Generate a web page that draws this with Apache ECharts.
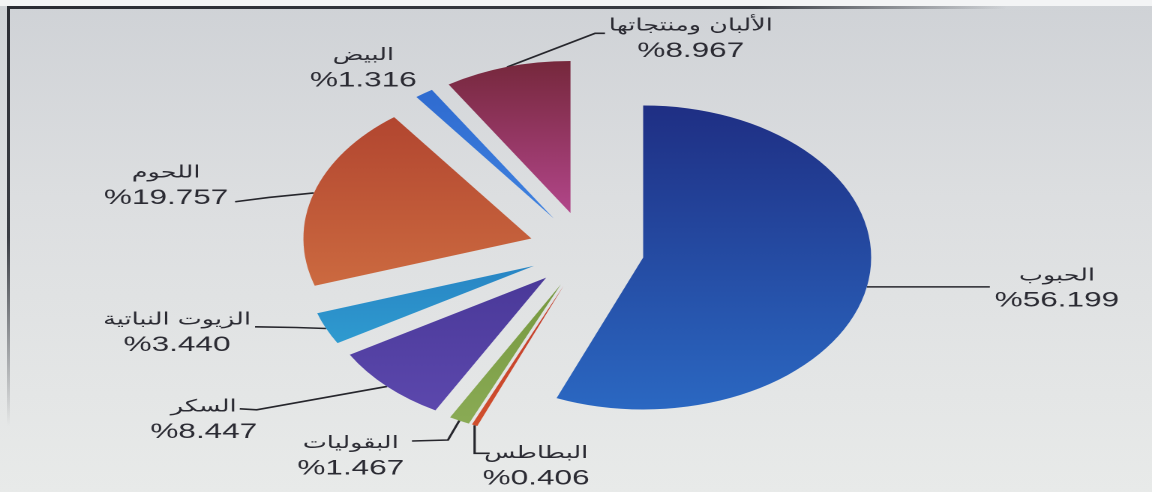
<!DOCTYPE html>
<html>
<head>
<meta charset="utf-8">
<script src="https://cdn.jsdelivr.net/npm/echarts@6/dist/echarts.min.js"></script>
<style>
html,body{margin:0;padding:0;width:1152px;height:492px;overflow:hidden;}
body{position:relative;background:linear-gradient(180deg,#cfd2d6 0%,#dcdee0 40%,#e8eae9 100%);}
#topWhite{position:absolute;left:0;top:0;width:1152px;height:6px;background:#f3f4f5;}
#frameTop{position:absolute;left:7px;top:6px;width:1000px;height:3px;background:linear-gradient(90deg,#2a2c33 0%,#3a3d44 75%,rgba(70,70,75,0) 100%);}
#frameLeft{position:absolute;left:7px;top:6px;width:3px;height:420px;background:linear-gradient(180deg,#2a2c33 0%,#3a3d44 55%,rgba(70,70,75,0) 100%);}
#chart{position:absolute;left:0;top:0;width:768px;height:492px;transform:scaleX(1.5);transform-origin:0 0;}
</style>
</head>
<body>
<div id="topWhite"></div>
<div id="frameTop"></div>
<div id="frameLeft"></div>
<div id="chart"></div>
<script>
// ---- data ----
const categories = ['الحبوب', 'البطاطس', 'البقوليات', 'السكر', 'الزيوت النباتية', 'اللحوم', 'البيض', 'الألبان ومنتجاتها'];
const shares = [56.199, 0.406, 1.467, 8.447, 3.440, 19.757, 1.316, 8.967];

// ---- styles ----
const colorTop    = ['#1f2f84', '#c23b2a', '#76983f', '#4a3999', '#2885c4', '#b24630', '#2f6bd0', '#76283c'];
const colorBottom = ['#2b68c2', '#d0502e', '#8aab55', '#5c48ad', '#2f9bd0', '#cc6a40', '#3f82e0', '#b2468a'];
// leader-line bends and label centres, as offsets from the library's own leader start point
const leaderElbow = [[40, 0], [0, 28], [-7.6, 19.4], [-86.9, 23.4], [-20, -1], [-30, 4.5], [0, 0], [58.7, -33.7]];
const leaderEnd   = [[82, 0], [10, 28], [-31.6, 20.4], [-98.2, 22.4], [-47.4, -1.7], [-52.5, 8.8], [0, 0], [65.3, -33.7]];
const labelCenter = [[126.7, 2.5], [41, 41.7], [-72.4, 36.4], [-122.2, 34.4], [-99.4, 5.3], [-98.5, -6.2], [-40.5, -24.3], [122.5, -27.5]];
const leaderShow  = [1, 1, 1, 1, 1, 1, 0, 1];

const chart = echarts.init(document.getElementById('chart'), null, { renderer: 'canvas', devicePixelRatio: 2 });

const data = categories.map((name, i) => ({
  name: name,
  value: shares[i],
  selected: true,
  itemStyle: {
    color: { type: 'linear', x: 0, y: 0, x2: 0, y2: 1,
      colorStops: [{ offset: 0, color: colorTop[i] }, { offset: 1, color: colorBottom[i] }] }
  },
  labelLine: { lineStyle: { opacity: leaderShow[i] ? 1 : 0 } }
}));

chart.setOption({
  animation: false,
  series: [{
    type: 'pie',
    center: [391, 250],
    radius: 152,
    startAngle: 90,
    clockwise: true,
    selectedMode: 'multiple',
    selectedOffset: 38.5,
    avoidLabelOverlap: false,
    emphasis: { disabled: true },
    data: data,
    label: {
      show: true,
      position: 'outside',
      color: '#2b2b33',
      formatter: p => '{n|' + p.name + '}\n{v|%' + p.value.toFixed(3) + '}',
      rich: {
        n: { fontSize: 17, lineHeight: 25, align: 'center', color: '#2b2b33', fontFamily: 'DejaVu Sans, sans-serif' },
        v: { fontSize: 21, lineHeight: 25, align: 'center', color: '#2b2b33', fontFamily: 'Liberation Sans, Arial, sans-serif' }
      }
    },
    labelLine: {
      show: true,
      length: 10,
      length2: 5,
      smooth: false,
      lineStyle: { color: '#26262c', width: 1.6 }
    },
    labelLayout: function (p) {
      const i = p.dataIndex;
      if (!p.labelLinePoints) return {};
      const s = p.labelLinePoints[0];
      const lr = p.labelRect;
      const e = leaderElbow[i], n = leaderEnd[i], c = labelCenter[i];
      return {
        dx: s[0] + c[0] - (lr.x + lr.width / 2),
        dy: s[1] + c[1] - (lr.y + lr.height / 2),
        labelLinePoints: [
          [s[0], s[1]],
          [s[0] + e[0], s[1] + e[1]],
          [s[0] + n[0], s[1] + n[1]]
        ]
      };
    }
  }]
});
</script>
</body>
</html>
